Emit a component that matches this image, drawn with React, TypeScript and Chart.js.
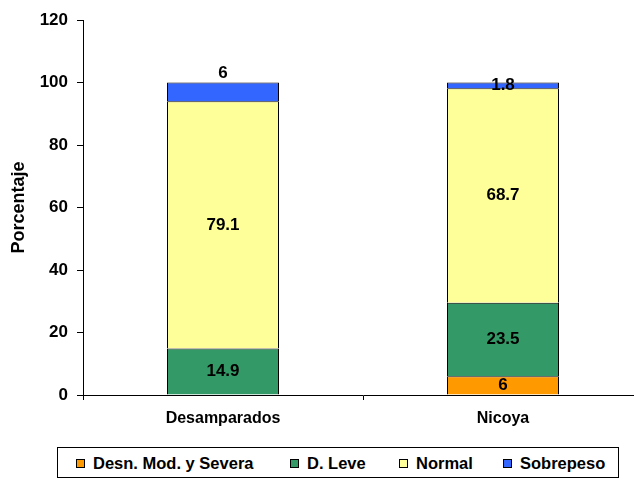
import React, { useEffect, useRef } from "react";
import { Chart, registerables } from "chart.js";

Chart.register(...registerables);

const categories = ["Desamparados", "Nicoya"];
const seriesNames = ["Desn. Mod. y Severa", "D. Leve", "Normal", "Sobrepeso"];
const desnModSevera = [0, 6];
const dLeve = [14.9, 23.5];
const normal = [79.1, 68.7];
const sobrepeso = [6, 1.8];
const yTicks = [0, 20, 40, 60, 80, 100, 120];

const colors = ["#FF9900", "#339966", "#FFFF99", "#3366FF"];
const FONT = "'Liberation Sans', Arial, sans-serif";
const labelAbove = ["Sobrepeso|Desamparados"];
const legendLefts = [76, 290, 399, 503];

const labelPlugin = {
  id: "segLabels",
  afterDatasetsDraw(chart: any) {
    const ctx = chart.ctx;
    ctx.save();
    ctx.font = `bold 17px ${FONT}`;
    ctx.fillStyle = "#000";
    ctx.textAlign = "center";
    ctx.textBaseline = "middle";
    chart.data.datasets.forEach((ds: any, di: number) => {
      const meta = chart.getDatasetMeta(di);
      meta.data.forEach((bar: any, i: number) => {
        const v = ds.data[i];
        if (!v) return;
        const key = `${ds.label}|${chart.data.labels[i]}`;
        let y = (bar.y + bar.base) / 2;
        if (labelAbove.includes(key)) y = bar.y - 9;
        ctx.fillText(String(v), bar.x, y);
      });
    });
    ctx.restore();
  },
};

export default function App() {
  const ref = useRef<HTMLCanvasElement>(null);
  useEffect(() => {
    if (!ref.current) return;
    const seriesData = [desnModSevera, dLeve, normal, sobrepeso];
    const chart = new Chart(ref.current, {
      type: "bar",
      data: {
        labels: categories,
        datasets: seriesNames.map((name, i) => ({
          label: name,
          data: seriesData[i],
          backgroundColor: colors[i],
          borderColor: "#000",
          borderWidth: 1,
          barPercentage: 0.4,
          categoryPercentage: 1,
        })),
      },
      options: {
        responsive: false,
        animation: false,
        layout: { padding: { top: 20, left: 0, right: 0, bottom: 0 } },
        plugins: { legend: { display: false }, tooltip: { enabled: false } },
        scales: {
          x: {
            stacked: true,
            grid: { drawOnChartArea: false, offset: true, color: "#000", tickLength: 5 },
            border: { color: "#000", width: 1 },
            ticks: { color: "#000", font: { family: FONT, size: 16, weight: "bold" }, padding: 9, maxRotation: 0 },
            afterFit: (s: any) => { s.height = 45; },
          },
          y: {
            stacked: true,
            min: 0,
            max: 120,
            afterBuildTicks: (s: any) => { s.ticks = yTicks.map((v) => ({ value: v })); },
            grid: { drawOnChartArea: false, color: "#000", tickLength: 6 },
            border: { color: "#000", width: 1 },
            ticks: { color: "#000", font: { family: FONT, size: 17, weight: "bold" }, padding: 9 },
            title: {
              display: true,
              text: "Porcentaje",
              color: "#000",
              font: { family: FONT, size: 18, weight: "bold" },
              padding: { top: 8, bottom: 0 },
            },
            afterFit: (s: any) => { s.width = 83; },
          },
        },
      },
      plugins: [labelPlugin],
    });
    return () => chart.destroy();
  }, []);

  return (
    <div style={{ position: "absolute", left: 0, top: 0, width: 634, height: 480, background: "#fff", overflow: "hidden", fontFamily: FONT }}>
      <div style={{ position: "absolute", left: 0, top: 0, width: 634, height: 440, overflow: "hidden" }}>
        <canvas ref={ref} width={643} height={440} style={{ display: "block" }} />
      </div>
      <div style={{ position: "absolute", left: 57, top: 447, width: 562, height: 31, boxSizing: "border-box", border: "1px solid #000" }}>
        {seriesNames.map((name, i) => (
          <div key={name} style={{ position: "absolute", left: legendLefts[i] - 58, top: 5, height: 20, display: "flex", alignItems: "center", whiteSpace: "nowrap" }}>
            <span style={{ display: "inline-block", width: 9, height: 9, boxSizing: "border-box", border: "1px solid #000", background: colors[i], marginRight: 8 }} />
            <span style={{ fontSize: 16.5, fontWeight: "bold", color: "#000", lineHeight: "20px" }}>{name}</span>
          </div>
        ))}
      </div>
    </div>
  );
}
